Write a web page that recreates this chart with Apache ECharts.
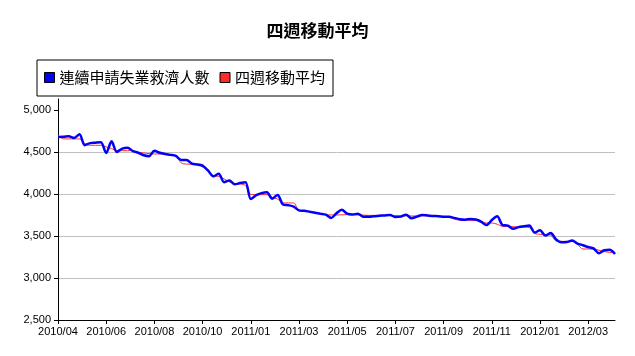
<!DOCTYPE html>
<html>
<head>
<meta charset="utf-8">
<script src="https://cdn.jsdelivr.net/npm/echarts@6/dist/echarts.min.js"></script>
<style>
html,body{margin:0;padding:0;background:#fff;}
#main{width:635px;height:356px;}
</style>
</head>
<body>
<div id="main"></div>
<script>
var categories = [
'2010/04/24','2010/05/01','2010/05/08','2010/05/15','2010/05/22','2010/05/29','2010/06/05','2010/06/12','2010/06/19','2010/06/26',
'2010/07/03','2010/07/10','2010/07/17','2010/07/24','2010/07/31','2010/08/07','2010/08/14','2010/08/21','2010/08/28','2010/09/04',
'2010/09/11','2010/09/18','2010/09/25','2010/10/02','2010/10/09','2010/10/16','2010/10/23','2010/10/30','2010/11/06','2010/11/13',
'2010/11/20','2010/11/27','2010/12/04','2010/12/11','2010/12/18','2010/12/25','2011/01/01','2011/01/08','2011/01/15','2011/01/22',
'2011/01/29','2011/02/05','2011/02/12','2011/02/19','2011/02/26','2011/03/05','2011/03/12','2011/03/19','2011/03/26','2011/04/02',
'2011/04/09','2011/04/16','2011/04/23','2011/04/30','2011/05/07','2011/05/14','2011/05/21','2011/05/28','2011/06/04','2011/06/11',
'2011/06/18','2011/06/25','2011/07/02','2011/07/09','2011/07/16','2011/07/23','2011/07/30','2011/08/06','2011/08/13','2011/08/20',
'2011/08/27','2011/09/03','2011/09/10','2011/09/17','2011/09/24','2011/10/01','2011/10/08','2011/10/15','2011/10/22','2011/10/29',
'2011/11/05','2011/11/12','2011/11/19','2011/11/26','2011/12/03','2011/12/10','2011/12/17','2011/12/24','2011/12/31','2012/01/07',
'2012/01/14','2012/01/21','2012/01/28','2012/02/04','2012/02/11','2012/02/18','2012/02/25','2012/03/03','2012/03/10','2012/03/17',
'2012/03/24','2012/03/31','2012/04/07','2012/04/14','2012/04/21'
];

var continuingClaims = [
4678,4680,4686,4667,4710,4580,4605,4610,4614,4488,
4626,4500,4540,4550,4510,4490,4460,4450,4515,4490,
4475,4465,4452,4405,4405,4360,4350,4335,4280,4210,
4241,4140,4160,4115,4130,4140,3940,3985,4010,4020,
3944,3988,3875,3866,3850,3805,3800,3788,3777,3765,
3753,3714,3770,3812,3765,3755,3765,3730,3728,3735,
3740,3745,3750,3725,3730,3753,3710,3730,3750,3745,
3738,3735,3730,3728,3715,3700,3694,3702,3695,3670,
3630,3690,3734,3630,3623,3585,3605,3615,3625,3540,
3567,3505,3536,3460,3425,3428,3445,3410,3390,3368,
3352,3295,3330,3335,3285
];

var movingAverage = [
4700,4655,4655,4655,4655,4600,4579,4579,4579,4560,
4540,4515,4515,4515,4515,4495,4488,4480,4476,4476,
4476,4465,4455,4370,4355,4355,4355,4350,4270,4215,
4209,4180,4143,4125,4119,4100,3995,3992,3992,3992,
3960,3940,3893,3893,3893,3800,3793,3793,3777,3765,
3753,3750,3750,3752,3753,3752,3750,3748,3745,3745,
3745,3745,3745,3742,3740,3740,3738,3738,3740,3740,
3738,3735,3733,3725,3700,3688,3686,3686,3686,3660,
3655,3655,3640,3614,3612,3610,3607,3607,3600,3530,
3520,3515,3510,3440,3436,3436,3436,3400,3345,3345,
3345,3330,3315,3305,3297
];

var yTickValues = [2500, 3000, 3500, 4000, 4500, 5000];

var chart = echarts.init(document.getElementById('main'), null, {renderer: 'canvas'});
chart.setOption({
  animation: false,
  backgroundColor: '#fff',
  title: {
    text: '四週移動平均',
    left: 'center',
    top: 17,
    textStyle: {fontFamily: 'Noto Sans CJK TC', fontSize: 17, fontWeight: 'bold', color: '#000'}
  },
  legend: {
    data: ['連續申請失業救濟人數', '四週移動平均'],
    left: 37,
    top: 60,
    orient: 'horizontal',
    padding: [10, 8, 11, 7],
    borderColor: '#000',
    borderWidth: 1,
    borderRadius: 0,
    itemWidth: 10,
    itemHeight: 10,
    itemGap: 10,
    icon: 'rect',
    itemStyle: {borderColor: '#000', borderWidth: 1},
    textStyle: {fontFamily: 'Noto Sans CJK TC', fontSize: 15, color: '#000'}
  },
  grid: {left: 58, right: 20, top: 99, bottom: 36, containLabel: false},
  xAxis: {
    type: 'category',
    data: categories,
    boundaryGap: false,
    axisLine: {lineStyle: {color: '#000', width: 1}},
    axisTick: {show: true, interval: 8, length: 4, lineStyle: {color: '#000'}},
    axisLabel: {
      interval: 8,
      margin: 6,
      fontFamily: 'Liberation Sans',
      fontSize: 11,
      color: '#000',
      formatter: function (v) { return v.slice(0, 7); }
    },
    splitLine: {show: false}
  },
  yAxis: {
    type: 'value',
    min: 2500,
    max: 5130,
    interval: 500,
    axisLine: {show: true, lineStyle: {color: '#000', width: 1}},
    axisTick: {show: true, length: 4, lineStyle: {color: '#000'}, customValues: yTickValues},
    axisLabel: {
      margin: 7,
      fontFamily: 'Liberation Sans',
      fontSize: 11,
      color: '#000',
      customValues: yTickValues,
      formatter: function (v) { return echarts.format.addCommas(v); }
    },
    splitLine: {show: true, showMinLine: false, showMaxLine: false, lineStyle: {color: '#c0c0c0', width: 1}}
  },
  series: [
    {
      name: '四週移動平均',
      type: 'line',
      data: movingAverage,
      smooth: 0.3,
      symbol: 'none',
      lineStyle: {color: '#ff2a2a', width: 1},
      itemStyle: {color: '#ff2a2a'},
      z: 2
    },
    {
      name: '連續申請失業救濟人數',
      type: 'line',
      data: continuingClaims,
      smooth: 0.3,
      symbol: 'none',
      lineStyle: {color: '#0000ff', width: 2.5},
      itemStyle: {color: '#0000ff'},
      z: 3
    }
  ]
});
</script>
</body>
</html>
